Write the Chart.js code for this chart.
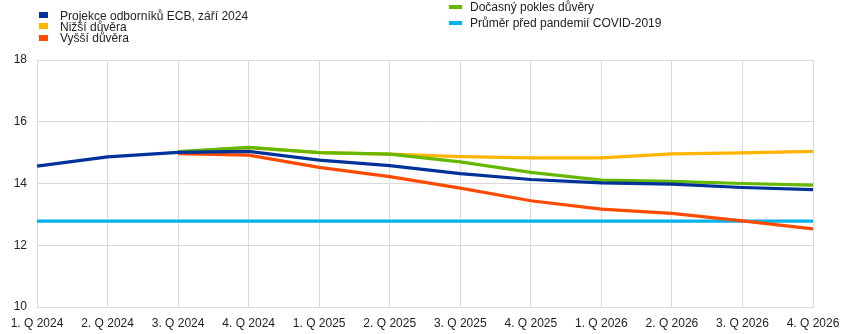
<!DOCTYPE html>
<html>
<head>
<meta charset="utf-8">
<script src="https://cdn.jsdelivr.net/npm/chart.js@4"></script>
<style>
    body { margin: 0; background: #fff; }
    #wrap { position: relative; width: 861px; height: 334px; font-family: "Liberation Sans", Arial, sans-serif; }
    canvas { position: absolute; left: 0; top: 0; }
    .key { position: absolute; font-size: 12px; color: #222; white-space: nowrap; line-height: 12px; }
    .swatch { position: absolute; }
</style>
</head>
<body>
<div id="wrap">
    <canvas id="chart" width="861" height="334"></canvas>
    <div id="legend"></div>
</div>
<script>
const quarters = ['1. Q 2024', '2. Q 2024', '3. Q 2024', '4. Q 2024', '1. Q 2025', '2. Q 2025',
    '3. Q 2025', '4. Q 2025', '1. Q 2026', '2. Q 2026', '3. Q 2026', '4. Q 2026'];

const projection = [14.56, 14.86, 15.01, 15.04, 14.76, 14.58, 14.32, 14.13, 14.02, 13.98, 13.87, 13.8];
const lowerConfidence = [null, null, 15.02, 15.16, 15.0, 14.95, 14.87, 14.83, 14.83, 14.96, 14.99, 15.04];
const higherConfidence = [null, null, 14.97, 14.92, 14.52, 14.22, 13.85, 13.44, 13.17, 13.03, 12.79, 12.53];
const temporaryDrop = [null, null, 15.03, 15.17, 15.0, 14.95, 14.7, 14.36, 14.11, 14.07, 14.0, 13.95];
const preCovidAverage = [12.78, 12.78, 12.78, 12.78, 12.78, 12.78, 12.78, 12.78, 12.78, 12.78, 12.78, 12.78];

const series = [
    { label: 'Projekce odborníků ECB, září 2024', data: projection, color: '#003299', order: 0 },
    { label: 'Nižší důvěra', data: lowerConfidence, color: '#ffb400', order: 3 },
    { label: 'Vyšší důvěra', data: higherConfidence, color: '#ff4b00', order: 2 },
    { label: 'Dočasný pokles důvěry', data: temporaryDrop, color: '#65b800', order: 1 },
    { label: 'Průměr před pandemií COVID-2019', data: preCovidAverage, color: '#00b1ea', order: 4 }
];

// legend is laid out by hand in two columns above the plot
const legendSpots = [
    { x: 39, y: 10, sw: [9, 6], sy: 12 },
    { x: 39, y: 21, sw: [9, 6], sy: 23 },
    { x: 39, y: 32, sw: [9, 6], sy: 35 },
    { x: 449, y: 1, sw: [13, 4], sy: 5 },
    { x: 449, y: 17, sw: [13, 4], sy: 21 }
];

function buildLegend() {
    const legend = document.getElementById('legend');
    series.forEach((s, i) => {
        const spot = legendSpots[i];
        const sw = document.createElement('div');
        sw.className = 'swatch';
        sw.style.left = spot.x + 'px';
        sw.style.top = spot.sy + 'px';
        sw.style.width = spot.sw[0] + 'px';
        sw.style.height = spot.sw[1] + 'px';
        sw.style.background = s.color;
        legend.appendChild(sw);

        const txt = document.createElement('div');
        txt.className = 'key';
        txt.style.left = (i < 3 ? 60 : 470) + 'px';
        txt.style.top = spot.y + 'px';
        txt.textContent = s.label;
        legend.appendChild(txt);
    });
}

function renderChart() {
    const ctx = document.getElementById('chart').getContext('2d');
    new Chart(ctx, {
        type: 'line',
        data: {
            labels: quarters,
            datasets: series.map(s => ({
                label: s.label,
                data: s.data,
                borderColor: s.color,
                backgroundColor: s.color,
                borderWidth: 3.2,
                pointRadius: 0,
                tension: 0,
                order: s.order
            }))
        },
        options: {
            responsive: false,
            animation: false,
            layout: { padding: { top: 60, right: 48, bottom: 0, left: 0 } },
            plugins: {
                legend: { display: false },
                tooltip: { enabled: false }
            },
            scales: {
                x: {
                    offset: false,
                    grid: { color: '#d9d9d9', drawTicks: false },
                    border: { color: '#d9d9d9' },
                    ticks: {
                        color: '#222',
                        font: { family: '"Liberation Sans", Arial, sans-serif', size: 12 },
                        padding: 9,
                        maxRotation: 0,
                        autoSkip: false
                    },
                    afterFit: scale => { scale.height = 27; }
                },
                y: {
                    min: 10,
                    max: 18,
                    grid: { color: '#d9d9d9', drawTicks: false },
                    border: { color: '#d9d9d9' },
                    ticks: {
                        stepSize: 2,
                        color: '#222',
                        font: { family: '"Liberation Sans", Arial, sans-serif', size: 12 },
                        padding: 10
                    },
                    afterFit: scale => { scale.width = 37; }
                }
            }
        }
    });
}

buildLegend();
renderChart();
</script>
</body>
</html>
